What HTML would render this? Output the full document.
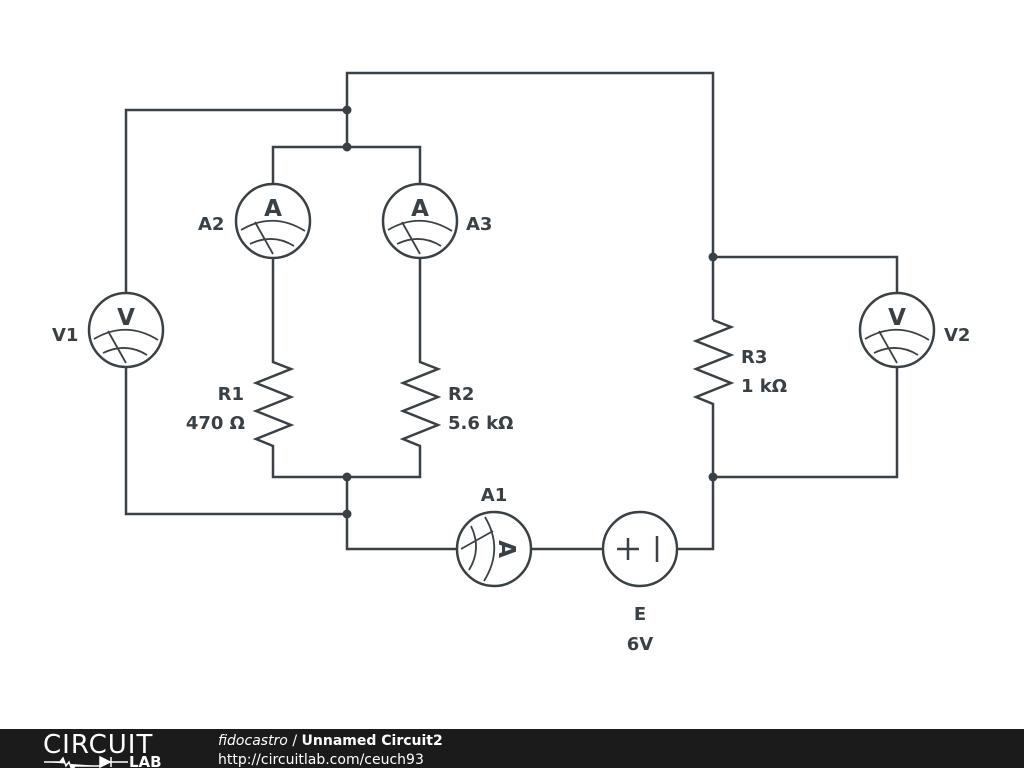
<!DOCTYPE html>
<html><head><meta charset="utf-8"><style>
html,body{margin:0;padding:0;background:#fff;}
svg{display:block}
text{font-family:"DejaVu Sans","Liberation Sans",sans-serif;font-weight:bold;fill:#3a4146}
</style></head><body>
<svg width="1024" height="768" viewBox="0 0 1024 768" xmlns="http://www.w3.org/2000/svg">
<defs>
<g id="meter">
<circle cx="0" cy="0" r="37" fill="#fff" stroke="#3a4146" stroke-width="2.5"/>
<path d="M-32,9 Q0,-10 32,10" fill="none" stroke="#3a4146" stroke-width="1.8"/>
<path d="M-23,23 Q0,12 21,25" fill="none" stroke="#3a4146" stroke-width="1.8"/>
<path d="M-18,1 L0,33" fill="none" stroke="#3a4146" stroke-width="1.8"/>
</g>
</defs>
<g fill="none" stroke="#3a4146" stroke-width="2.5">
<path d="M347,147 V73 H713 V320"/>
<path d="M713,410 V549 H677"/>
<path d="M347,110 H126 V293"/>
<path d="M126,367 V514 H347"/>
<path d="M273,184 V147 H420 V184"/>
<path d="M273,258 V362 L291,369 L256,383 L291,397 L256,411 L291,425 L256,439 L273,446 V477 H420 V446 L403,439 L438,425 L403,411 L438,397 L403,383 L438,369 L420,362 V258"/>
<path d="M713,320 L731,327 L696,341 L731,355 L696,369 L731,383 L696,397 L713,404 V410"/>
<path d="M347,477 V549 H457"/>
<path d="M531,549 H603"/>
<path d="M713,257 H897 V293"/>
<path d="M897,367 V477 H713"/>
</g>
<g fill="#3a4146">
<circle cx="347" cy="110" r="4.5"/><circle cx="347" cy="147" r="4.5"/>
<circle cx="347" cy="477" r="4.5"/><circle cx="347" cy="514" r="4.5"/>
<circle cx="713" cy="257" r="4.5"/><circle cx="713" cy="477" r="4.5"/>
</g>
<g transform="translate(273,221)"><use href="#meter"/><text x="0" y="-5" font-size="23" text-anchor="middle">A</text></g>
<g transform="translate(420,221)"><use href="#meter"/><text x="0" y="-5" font-size="23" text-anchor="middle">A</text></g>
<g transform="translate(126,330)"><use href="#meter"/><text x="0" y="-5" font-size="23" text-anchor="middle">V</text></g>
<g transform="translate(897,330)"><use href="#meter"/><text x="0" y="-5" font-size="23" text-anchor="middle">V</text></g>
<g transform="translate(494,549) rotate(90)"><use href="#meter"/><text x="0" y="-5" font-size="23" text-anchor="middle">A</text></g>
<circle cx="640" cy="549" r="37" fill="#fff" stroke="#3a4146" stroke-width="2.5"/>
<path d="M617,549 H639 M628,538 V560 M657,536 V562" stroke="#3a4146" stroke-width="2.5" fill="none"/>
<g font-size="18">
<text x="198" y="230">A2</text>
<text x="466" y="230">A3</text>
<text x="52" y="341">V1</text>
<text x="944" y="341">V2</text>
<text x="244" y="400" text-anchor="end">R1</text>
<text x="245" y="429" text-anchor="end">470 Ω</text>
<text x="448" y="400">R2</text>
<text x="448" y="429">5.6 kΩ</text>
<text x="741" y="363">R3</text>
<text x="741" y="392">1 kΩ</text>
<text x="494" y="501" text-anchor="middle">A1</text>
<text x="640" y="620" text-anchor="middle">E</text>
<text x="640" y="650" text-anchor="middle">6V</text>
</g>
<rect x="0" y="729" width="1024" height="39" fill="#1b1b1b"/>
<text x="43" y="753" font-size="26" style="font-weight:normal;fill:#fff;letter-spacing:1px">CIRCUIT</text>
<path d="M44,762 H60 l3,-4 3,8 3,-4 3,8 3,-4 H100 M100,757 V767 L110,762 Z M111,757 V767 M111,762 H128" stroke="#fff" stroke-width="1.5" fill="#fff"/>
<text x="129" y="767" font-size="15" style="fill:#fff">LAB</text>
<text x="218" y="745" font-size="14" style="fill:#fff;font-weight:normal"><tspan font-style="italic">fidocastro</tspan> / <tspan font-weight="bold">Unnamed Circuit2</tspan></text>
<text x="218" y="764" font-size="14" style="fill:#fff;font-weight:normal">http://circuitlab.com/ceuch93</text>
</svg>
</body></html>
